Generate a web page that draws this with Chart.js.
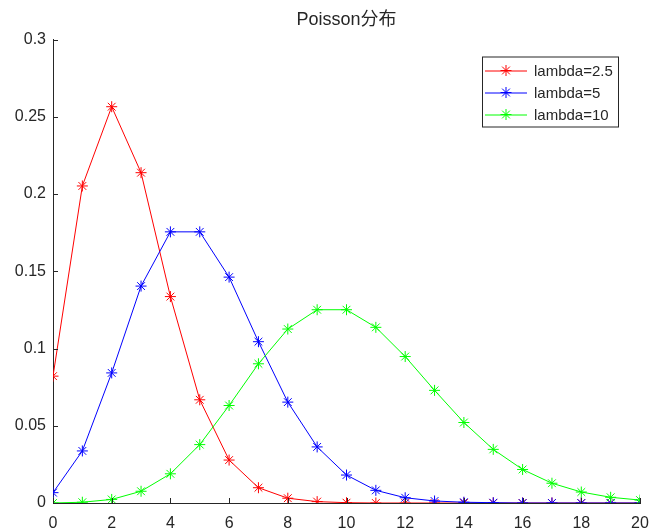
<!DOCTYPE html>
<html>
<head>
<meta charset="utf-8">
<script src="https://cdn.jsdelivr.net/npm/chart.js@4/dist/chart.umd.min.js"></script>
<style>
  html, body { margin: 0; padding: 0; background: #fff; }
  #wrap { width: 652px; height: 530px; }
</style>
</head>
<body>
<div id="wrap"><canvas id="chart" width="652" height="530"></canvas></div>
<script>
// x = 0..20
const xValues = [0,1,2,3,4,5,6,7,8,9,10,11,12,13,14,15,16,17,18,19,20];
const seriesNames = ["lambda=2.5", "lambda=5", "lambda=10"];
const seriesColors = ["#ff0000", "#0000ff", "#00ff00"];

const lambda25 = [0.0821, 0.2052, 0.2565, 0.2138, 0.1336, 0.0668, 0.0278, 0.0099, 0.0031, 0.0009, 0.0002,
                  0.0000, 0.0000, 0.0000, 0.0000, 0.0000, 0.0000, 0.0000, 0.0000, 0.0000, 0.0000];
const lambda5  = [0.0067, 0.0337, 0.0842, 0.1404, 0.1755, 0.1755, 0.1462, 0.1044, 0.0653, 0.0363, 0.0181,
                  0.0082, 0.0034, 0.0013, 0.0005, 0.0002, 0.0000, 0.0000, 0.0000, 0.0000, 0.0000];
const lambda10 = [0.0000, 0.0005, 0.0023, 0.0076, 0.0189, 0.0378, 0.0631, 0.0901, 0.1126, 0.1251, 0.1251,
                  0.1137, 0.0948, 0.0729, 0.0521, 0.0347, 0.0217, 0.0128, 0.0071, 0.0037, 0.0019];

const yTicks = [0, 0.05, 0.1, 0.15, 0.2, 0.25, 0.3];
const xTicks = [0, 2, 4, 6, 8, 10, 12, 14, 16, 18, 20];
const titleText = "Poisson分布";

const axisColor = "#262626";
const allSeries = [lambda25, lambda5, lambda10];

function makeDataset(i) {
  return {
    label: seriesNames[i],
    data: xValues.map((x, k) => ({ x: x, y: allSeries[i][k] })),
    borderColor: seriesColors[i],
    backgroundColor: seriesColors[i],
    borderWidth: 1,
    pointStyle: "star",
    pointRadius: 5.5,
    pointBorderWidth: 1,
    tension: 0,
    order: 2 - i
  };
}

// inward tick marks, MATLAB style
const innerTicks = {
  id: "innerTicks",
  afterDatasetsDraw(chart) {
    const ctx = chart.ctx;
    const xs = chart.scales.x, ys = chart.scales.y;
    const area = chart.chartArea;
    ctx.save();
    ctx.strokeStyle = axisColor;
    ctx.lineWidth = 1;
    ctx.beginPath();
    yTicks.forEach(v => {
      const py = Math.round(ys.getPixelForValue(v)) + 0.5;
      ctx.moveTo(area.left, py);
      ctx.lineTo(area.left + 5, py);
    });
    xTicks.forEach(v => {
      const px = Math.round(xs.getPixelForValue(v)) + 0.5;
      ctx.moveTo(px, area.bottom);
      ctx.lineTo(px, area.bottom - 5);
    });
    ctx.stroke();
    ctx.restore();
  }
};

// title centred over the axes, boxed legend in the top right corner
const boxLegend = {
  id: "boxLegend",
  afterDraw(chart) {
    const ctx = chart.ctx;
    const area = chart.chartArea;
    ctx.save();
    ctx.fillStyle = axisColor;
    ctx.font = "18px 'Liberation Sans', 'Noto Sans CJK SC', sans-serif";
    ctx.textAlign = "center";
    ctx.textBaseline = "middle";
    ctx.fillText(titleText, (area.left + area.right) / 2, 20);

    const w = 136, h = 70;
    const left = area.right - 22 - w;
    const top = area.top + 17;
    ctx.fillStyle = "#fff";
    ctx.fillRect(left, top, w, h);
    ctx.strokeStyle = axisColor;
    ctx.lineWidth = 1;
    ctx.strokeRect(left + 0.5, top + 0.5, w, h);
    chart.data.datasets.forEach((ds, i) => {
      const y = top + 14 + i * 22;
      ctx.strokeStyle = ds.borderColor;
      ctx.beginPath();
      ctx.moveTo(left + 3, y + 0.5);
      ctx.lineTo(left + 45, y + 0.5);
      ctx.stroke();
      Chart.helpers.drawPoint(ctx, {
        pointStyle: "star", radius: 5.5, borderWidth: 1, rotation: 0
      }, left + 24, y);
      ctx.fillStyle = axisColor;
      ctx.font = "15px 'Liberation Sans', Arial, sans-serif";
      ctx.textBaseline = "middle";
      ctx.textAlign = "left";
      ctx.fillText(ds.label, left + 52, y + 1);
    });
    ctx.restore();
  }
};

new Chart(document.getElementById("chart"), {
  type: "line",
  data: {
    datasets: [makeDataset(0), makeDataset(1), makeDataset(2)]
  },
  options: {
    responsive: false,
    animation: false,
    layout: { padding: { left: 0, right: 12, top: 39.5, bottom: 0 } },
    plugins: {
      legend: { display: false },
      tooltip: { enabled: false },
      title: { display: false }
    },
    scales: {
      x: {
        type: "linear",
        min: 0,
        max: 20,
        afterFit(scale) {
          scale.height = 27;
          scale.paddingLeft = 0;
          scale.paddingRight = 0;
        },
        afterBuildTicks(scale) { scale.ticks = xTicks.map(v => ({ value: v })); },
        grid: { display: true, drawOnChartArea: false, drawTicks: false },
        border: { display: true, color: axisColor, width: 1 },
        ticks: {
          color: axisColor,
          padding: 11,
          maxRotation: 0,
          autoSkip: false,
          font: { family: "'Liberation Sans', Arial, sans-serif", size: 16 }
        }
      },
      y: {
        type: "linear",
        min: 0,
        max: 0.3,
        afterFit(scale) { scale.width = 53; },
        afterBuildTicks(scale) { scale.ticks = yTicks.map(v => ({ value: v })); },
        grid: { display: true, drawOnChartArea: false, drawTicks: false },
        border: { display: true, color: axisColor, width: 1 },
        ticks: {
          color: axisColor,
          padding: 7,
          autoSkip: false,
          callback: v => String(+v.toFixed(2)),
          font: { family: "'Liberation Sans', Arial, sans-serif", size: 16 }
        }
      }
    }
  },
  plugins: [innerTicks, boxLegend]
});
</script>
</body>
</html>
